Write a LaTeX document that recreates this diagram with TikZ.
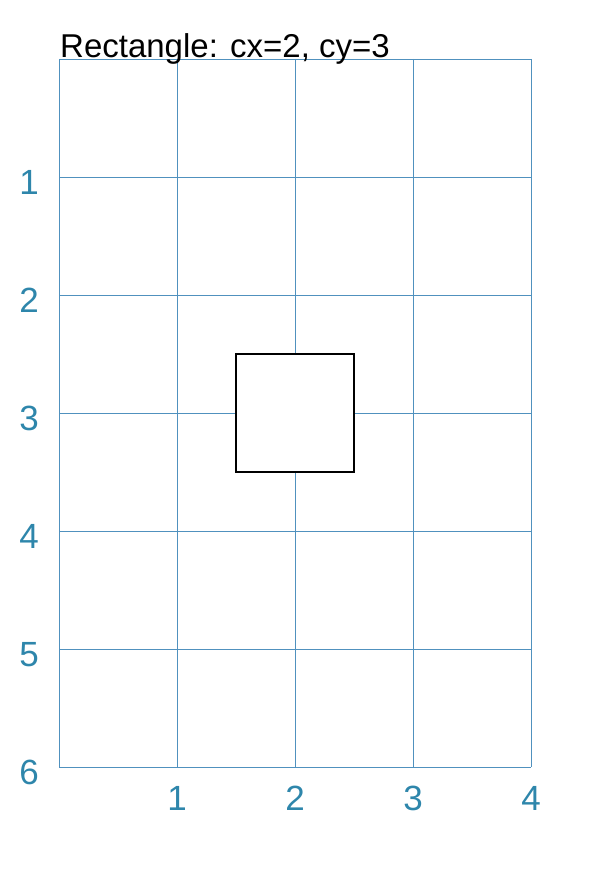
\documentclass[tikz,border=0pt]{standalone}
\usepackage{fontspec}
\setmainfont{Liberation Sans}
\definecolor{gridc}{RGB}{80,145,190}
\definecolor{labc}{RGB}{46,134,171}
\begin{document}
\begin{tikzpicture}[x=1pt,y=-1pt,
  gridline/.style={draw=gridc,line width=0.9pt},
  lab/.style={text=labc,font=\fontsize{35}{35}\selectfont,inner sep=0pt},
  box/.style={draw=black,line width=1.5pt,fill=white}]
\useasboundingbox (0,0) rectangle (613,875);
\foreach \i in {0,...,6} {
  \draw[gridline] (59,59+118*\i) -- (531,59+118*\i);
}
\foreach \j in {0,...,4} {
  \draw[gridline] (59+118*\j,59) -- (59+118*\j,767);
}
\foreach \i in {1,...,6} {
  \node[lab] (r\i) at (29,64.5+118*\i) {\i};
}
\foreach \j in {1,...,4} {
  \node[lab] (c\j) at (59+118*\j,798.5) {\j};
}
\node[box,minimum width=118pt,minimum height=118pt,inner sep=0pt] (rect) at (295,413) {};
\node[anchor=base west,inner sep=0pt,font=\fontsize{33}{33}\selectfont] (title) at (60,57) {Rectangle: cx=2, cy=3};
\end{tikzpicture}
\end{document}
